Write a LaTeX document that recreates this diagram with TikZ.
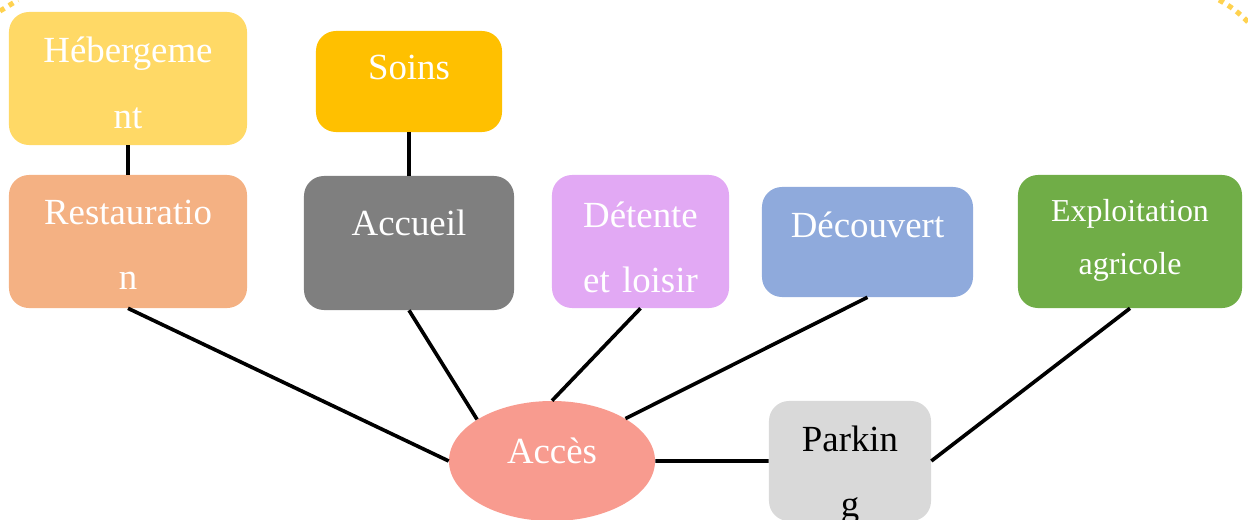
\documentclass[tikz,border=0pt]{standalone}
\usepackage{fontspec}
\setmainfont{Liberation Serif}
\usetikzlibrary{shapes.geometric}
\definecolor{hebcol}{HTML}{FFD966}
\definecolor{restcol}{HTML}{F4B183}
\definecolor{soincol}{HTML}{FFC000}
\definecolor{accucol}{HTML}{7F7F7F}
\definecolor{detcol}{HTML}{E2A9F4}
\definecolor{deccol}{HTML}{8FAADC}
\definecolor{expcol}{HTML}{70AD47}
\definecolor{acccol}{HTML}{F89B8F}
\definecolor{parkcol}{HTML}{D9D9D9}
\definecolor{dotcol}{HTML}{FFD24F}
\tikzset{
    box/.style={rounded corners=0.5cm, inner sep=0pt, align=center, text=white, anchor=base,
        font=\fontsize{26.2}{46.8}\selectfont},
    link/.style={line width=2.6pt, black},
    dots/.style={dotcol, line width=3.6pt, dash pattern=on 0.13cm off 0.13cm}
}
\begin{document}
\begin{tikzpicture}[x=0.025cm, y=-0.025cm]
    \useasboundingbox (0,0) rectangle (1248,519);
    \clip (0,0) rectangle (1248,519);
    % corner dots
    \draw [dots] (0,11) -- (18,0);
    \draw [dots] (1219,0) to[bend left=8] (1248,22);
    % boxes
    \node [box, fill=hebcol, text width=5.95cm, text height=1.275cm, text depth=2.05cm] (heb) at (128,63) {Hébergeme\\nt};
    \node [box, fill=restcol, text width=5.95cm, text height=1.225cm, text depth=2.1cm] (restau) at (128,224) {Restauratio\\n};
    \node [box, fill=soincol, text width=4.65cm, text height=1.225cm, text depth=1.3cm] (soins) at (409,80) {Soins};
    \node [box, fill=accucol, text width=5.25cm, text height=1.475cm, text depth=1.875cm] (accueil) at (409,235) {Accueil};
    \node [box, fill=detcol, text width=4.425cm, text height=1.3cm, text depth=2.025cm] (detente) at (640.5,227) {Détente\\et loisir};
    \node [box, fill=deccol, text width=5.275cm, text height=1.25cm, text depth=1.5cm] (decouvert) at (867.5,237) {Découvert};
    \node [box, fill=expcol, text width=5.6cm, text height=1.15cm, text depth=2.175cm,
        font=\fontsize{22.7}{38.3}\selectfont] (exploit) at (1130,221) {Exploitation\\agricole};
    \node [box, fill=parkcol, text=black, text width=4.05cm, text height=1.25cm, text depth=1.75cm] (parking) at (850,451) {Parkin\\g};
    \node [ellipse, fill=acccol, text=white, inner sep=0pt, minimum width=5.15cm, minimum height=3cm,
        text height=0.6cm, text depth=0.5cm, font=\fontsize{26.2}{46.8}\selectfont] (acces) at (552,461) {Accès};
    % links
    \draw [link] (heb) -- (restau);
    \draw [link] (soins) -- (accueil);
    \draw [link] (restau.south) -- (acces.west);
    \draw [link] (accueil.south) -- (acces.151);
    \draw [link] (detente.south) -- (acces.north);
    \draw [link] (decouvert.south) -- (acces.30);
    \draw [link] (acces.east) -- (parking.west);
    \draw [link] (exploit.south) -- (parking.east);
\end{tikzpicture}
\end{document}
